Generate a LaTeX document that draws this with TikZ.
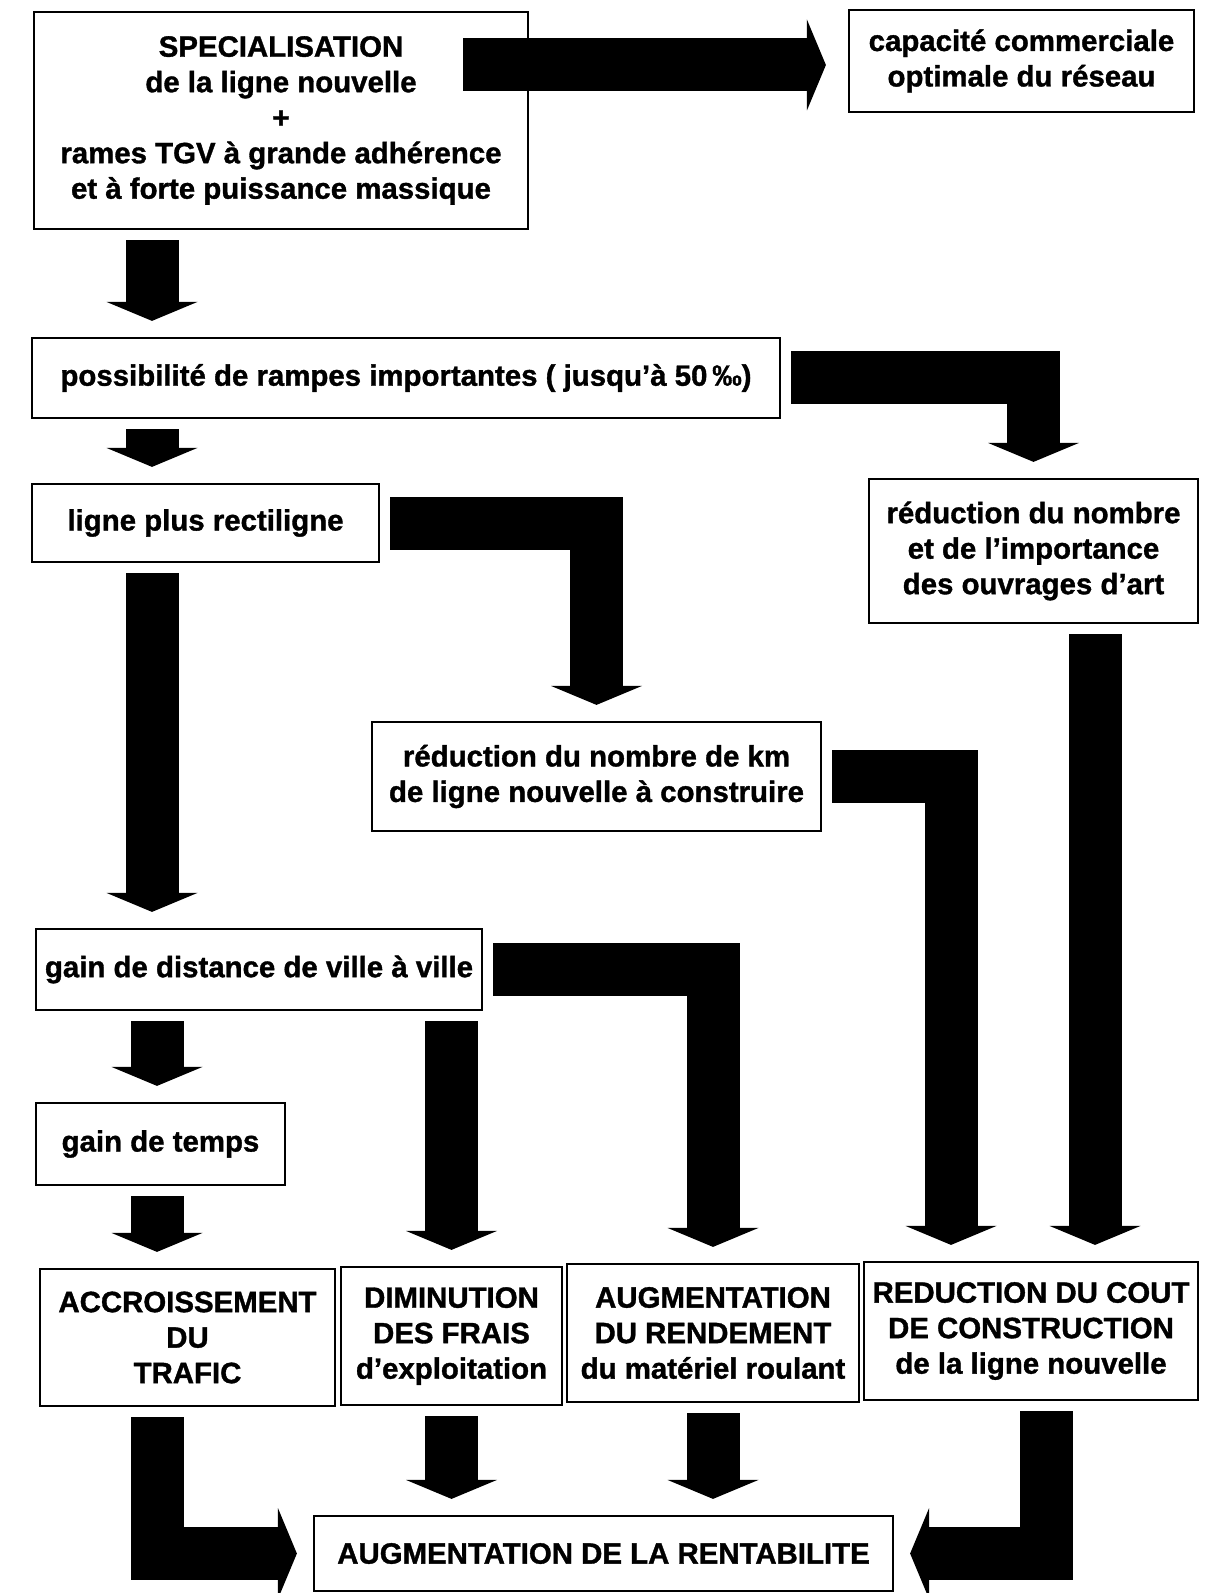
\documentclass[tikz,border=0pt]{standalone}
\usepackage{fontspec}
\setmainfont{Liberation Sans}[BoldFeatures={FakeBold=1.2}]
\usepackage{tikz}
\usetikzlibrary{arrows.meta}
\usetikzlibrary{calc}
\tikzset{>={Triangle[width=45.5pt,length=9.5pt,line width=0pt]}}
\tikzset{box/.style={draw,line width=1.1pt,fill=white,align=center,inner sep=0pt,
    font=\bfseries\fontsize{14.7}{17.75}\selectfont}}
\tikzset{fat/.style={line width=26.5pt,->,shorten <=5pt,shorten >=8pt}}

\begin{document}
\begin{tikzpicture}[x=0.5pt,y=-0.5pt]
    \useasboundingbox (0,0) rectangle (1220,1593);
    \node[box,minimum width=247pt,minimum height=108.5pt] (spec) at (281,120.5)
      {SPECIALISATION\\de la ligne nouvelle\\+\\rames TGV à grande adhérence\\et à forte puissance massique};
    \node[box,minimum width=172.5pt,minimum height=51pt] (capa) at (1021.5,61)
      {capacité commerciale\\optimale du réseau};
    \node[box,minimum width=374pt,minimum height=40pt] (rampes) at (406,378)
      {possibilité de rampes importantes ( jusqu’à 50\,‰)};
    \node[box,minimum width=173.5pt,minimum height=39pt] (recti) at (205.5,523)
      {ligne plus rectiligne};
    \node[box,minimum width=164.5pt,minimum height=72pt] (ouvr) at (1033.5,551)
      {réduction du nombre\\et de l’importance\\des ouvrages d’art};
    \node[box,minimum width=224.5pt,minimum height=54.5pt] (km) at (596.5,776.5)
      {réduction du nombre de km\\de ligne nouvelle à construire};
    \node[box,minimum width=223pt,minimum height=40.5pt] (dist) at (259,969.5)
      {gain de distance de ville à ville};
    \node[box,minimum width=124.5pt,minimum height=41pt] (temps) at (160.5,1144)
      {gain de temps};
    \node[box,minimum width=147.5pt,minimum height=68.5pt] (trafic) at (187.5,1337.5)
      {ACCROISSEMENT\\DU\\TRAFIC};
    \node[box,minimum width=110.5pt,minimum height=69pt] (frais) at (451.5,1336)
      {DIMINUTION\\DES FRAIS\\d’exploitation};
    \node[box,minimum width=146pt,minimum height=69pt] (rend) at (713,1333)
      {AUGMENTATION\\DU RENDEMENT\\du matériel roulant};
    \node[box,minimum width=167pt,minimum height=69pt] (cout) at (1031,1331)
      {REDUCTION DU COUT\\DE CONSTRUCTION\\de la ligne nouvelle};
    \node[box,minimum width=289.5pt,minimum height=37.5pt] (rent) at (603.5,1553.5)
      {AUGMENTATION DE LA RENTABILITE};

    \coordinate (colA) at (152,0);
    \coordinate (colB) at (157,0);
    \coordinate (colC) at (951,0);
    \coordinate (colD) at (1095,0);
    \coordinate (colE) at (1046,0);

    \draw[fat,shorten <=-33pt,shorten >=11pt] ([yshift=-2pt]spec.east |- capa.west) -- ([yshift=-2pt]capa.west);
    \draw[fat] (spec.south -| colA) -- (rampes.north -| colA);
    \draw[fat] (rampes.south -| colA) -- (recti.north -| colA);
    \draw[fat] (rampes.east) -- (rampes.east -| ouvr.north) -- (ouvr.north);
    \draw[fat] (recti.east) -- (recti.east -| km.north) -- (km.north);
    \draw[fat] (recti.south -| colA) -- (dist.north -| colA);
    \draw[fat] (ouvr.south -| colD) -- (cout.north -| colD);
    \draw[fat] (km.east) -- (km.east -| colC) -- (cout.north -| colC);
    \draw[fat] (dist.south -| colB) -- (temps.north -| colB);
    \draw[fat] (dist.south -| frais.north) -- (frais.north);
    \draw[fat] (dist.east) -- (dist.east -| rend.north) -- (rend.north);
    \draw[fat] (temps.south -| colB) -- (trafic.north -| colB);
    \draw[fat] (trafic.south -| colB) -- (colB |- rent.west) -- (rent.west);
    \foreach \n in {frais,rend} {
      \draw[fat] (\n.south) -- (\n.south |- rent.north);
    }
    \draw[fat] (cout.south -| colE) -- (colE |- rent.east) -- (rent.east);
\end{tikzpicture}
\end{document}
